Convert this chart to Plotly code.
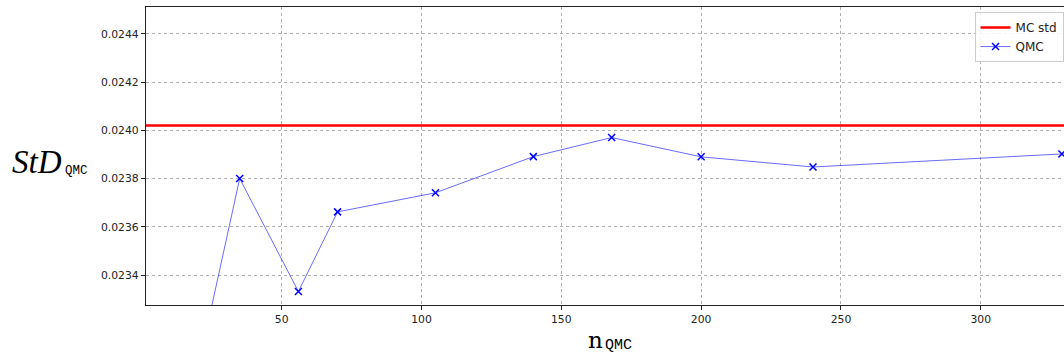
import plotly.graph_objects as go

# data
n_qmc = [21, 35, 56, 70, 105, 140, 168, 200, 240, 329]
std_qmc = [0.02306, 0.02380, 0.023332, 0.023662, 0.023741, 0.023891, 0.023970, 0.023890, 0.023848, 0.023902]
mc_std = 0.0240195

x_range = [1.5, 329.75]
y_range = [0.023276, 0.024511]
y_ticks = [0.0234, 0.0236, 0.0238, 0.0240, 0.0242, 0.0244]
x_ticks = [50, 100, 150, 200, 250, 300]

fig = go.Figure()
fig.add_trace(go.Scatter(
    x=[0, 400], y=[mc_std, mc_std], mode="lines", name="MC std",
    line=dict(color="#ff0000", width=2.5),
))
fig.add_trace(go.Scatter(
    x=n_qmc, y=std_qmc, mode="lines+markers", name="QMC",
    line=dict(color="rgba(0,0,255,0.65)", width=0.9),
    marker=dict(symbol="x-thin", size=7, color="#0000ff",
                line=dict(color="#0000ff", width=1.5)),
))

axis_common = dict(
    showgrid=True, gridcolor="#b0b0b0", griddash="dot", gridwidth=0.8,
    showline=True, linecolor="#222", linewidth=1.2, mirror=False,
    ticks="outside", ticklen=4, tickcolor="#222", tickwidth=1,
    tickfont=dict(family="DejaVu Sans", size=10.8, color="#222"),
    zeroline=False,
)

fig.update_xaxes(range=x_range, tickvals=x_ticks, **axis_common)
fig.update_xaxes(mirror=True)
fig.update_yaxes(range=y_range, tickvals=y_ticks, tickformat=".4f", **axis_common)

W, L, T, H = 918.0, 146.0, 7.0, 298.0


def px(x):
    return (x - L) / W


def py(y):
    return (T + H - y) / H


# y-axis label: StD_QMC
fig.add_annotation(
    xref="paper", yref="paper", x=px(10), y=py(162), xanchor="left", yanchor="middle",
    showarrow=False, text="<i>StD</i>",
    font=dict(family="Liberation Serif", size=33, color="#000"),
)
fig.add_annotation(
    xref="paper", yref="paper", x=px(62.5), y=py(170.5), xanchor="left", yanchor="middle",
    showarrow=False, text="QMC",
    font=dict(family="Liberation Mono", size=12.5, color="#000"),
)
# x-axis label: n_QMC
fig.add_annotation(
    xref="paper", yref="paper", x=px(605), y=py(340), xanchor="right", yanchor="middle",
    showarrow=False, text="n",
    font=dict(family="DejaVu Serif", size=23, color="#000"),
)
fig.add_annotation(
    xref="paper", yref="paper", x=px(602.5), y=py(345.5), xanchor="left", yanchor="middle",
    showarrow=False, text="QMC",
    font=dict(family="Liberation Mono", size=15, color="#000"),
)

fig.update_layout(
    width=1064, height=358,
    margin=dict(l=146, r=0, t=7, b=53),
    paper_bgcolor="white", plot_bgcolor="white",
    showlegend=True,
    legend=dict(
        x=0.9995, y=0.983, xanchor="right", yanchor="top",
        bgcolor="rgba(255,255,255,0.85)", bordercolor="#cccccc", borderwidth=1,
        font=dict(family="DejaVu Sans", size=12, color="#222"),
        tracegroupgap=2,
    ),
)

fig.write_html("out.html")
